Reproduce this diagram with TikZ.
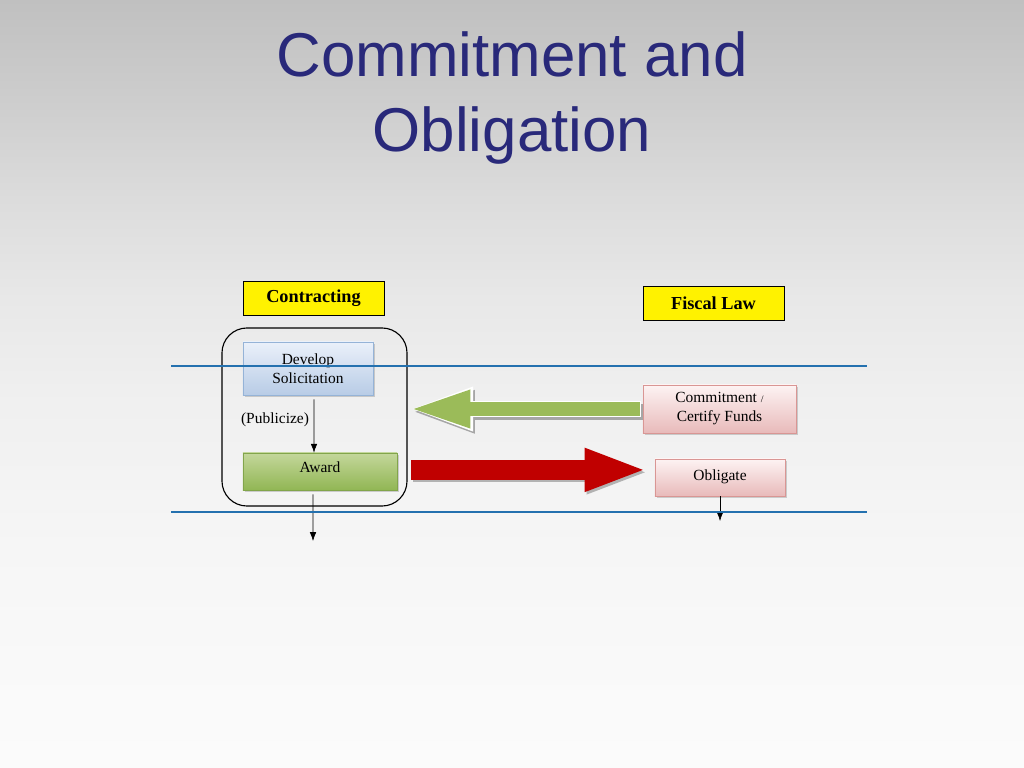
\documentclass[tikz,border=0pt]{standalone}
\usepackage{fontspec}
\setmainfont{Liberation Serif}
\newfontfamily\titlefont{Liberation Sans}
\usetikzlibrary{arrows.meta,positioning,shadows,calc}
\definecolor{slideTitle}{RGB}{41, 41, 122}
\definecolor{bandBlue}{RGB}{36, 113, 175}
\definecolor{devTop}{RGB}{234, 240, 250}
\definecolor{devBottom}{RGB}{184, 204, 230}
\definecolor{devEdge}{RGB}{149, 179, 215}
\definecolor{awardTop}{RGB}{196, 215, 155}
\definecolor{awardBottom}{RGB}{145, 182, 84}
\definecolor{awardEdge}{RGB}{130, 165, 75}
\definecolor{fundTop}{RGB}{253, 243, 243}
\definecolor{fundBottom}{RGB}{232, 186, 186}
\definecolor{fundEdge}{RGB}{217, 150, 148}
\definecolor{commitGreen}{RGB}{155, 187, 89}
\definecolor{obligateRed}{RGB}{192, 0, 0}
\pgfdeclareverticalshading{slidebg}{100bp}{%
  rgb(0bp)=(0.984,0.984,0.984); rgb(25bp)=(0.984,0.984,0.984);
  rgb(29.4bp)=(0.98,0.98,0.98); rgb(39.2bp)=(0.965,0.965,0.965);
  rgb(49bp)=(0.94,0.94,0.94); rgb(55.5bp)=(0.91,0.91,0.91);
  rgb(62bp)=(0.863,0.863,0.863); rgb(68.5bp)=(0.804,0.804,0.804);
  rgb(75bp)=(0.753,0.753,0.753); rgb(100bp)=(0.753,0.753,0.753)}

\begin{document}
\begin{tikzpicture}[
  x=0.025cm, y=-0.025cm,
  header/.style={draw=black, fill=yellow, inner sep=0pt, minimum width=3.525cm,
                 minimum height=0.86cm, font=\fontsize{13}{15}\selectfont\bfseries},
  stepbox/.style={draw, inner sep=0pt, align=center, font=\fontsize{11}{13.5}\selectfont,
                  drop shadow={shadow xshift=0.05cm, shadow yshift=-0.05cm, opacity=0.35}},
  arrow/.style={-{Latex[length=2.2mm, width=1.6mm]}, thin},
  band/.style={bandBlue, line width=1.3pt}
]
\useasboundingbox (0,0) rectangle (1024,768);
\shade[shading=slidebg] (0,0) rectangle (1024,768);

% title
\node[font=\titlefont\fontsize{44}{53}\selectfont, text=slideTitle, align=center]
  (title) at (512,98) {Commitment and\\Obligation};

% headers
\node[header] (contracting) at (313.5,298) {Contracting};
\node[header] (fiscal) at (713.5,303.5) {Fiscal Law};

% contracting steps
\node[draw=black, thick, rounded corners=0.625cm, minimum width=4.625cm,
      minimum height=4.45cm] (phase) at (314.5,417) {};
\node[stepbox, draw=devEdge, top color=devTop, bottom color=devBottom,
      minimum width=3.25cm, minimum height=1.325cm] (develop) at (308,368.5)
      {Develop\\Solicitation};
\node[stepbox, draw=awardEdge, top color=awardTop, bottom color=awardBottom,
      minimum width=3.85cm, minimum height=0.925cm, text depth=0.2cm] (award) at (320,471.5) {Award};
\node[font=\fontsize{11}{13.5}\selectfont] (publicize) at (275,420) {(Publicize)};

% fiscal steps
\node[stepbox, draw=fundEdge, top color=fundTop, bottom color=fundBottom,
      minimum width=3.825cm, minimum height=1.2cm] (commit) at (719.5,409)
      {Commitment {\fontsize{7}{9}\selectfont/}\\Certify Funds};
\node[stepbox, draw=fundEdge, top color=fundTop, bottom color=fundBottom,
      minimum width=3.25cm, minimum height=0.925cm, text depth=0.1cm] (obligate) at (720,477.5) {Obligate};

\coordinate (awardout) at (313,541);
\coordinate (obligateout) at (720,521);

% flow
\draw[arrow] ([xshift=0.15cm, yshift=-0.1cm]develop.south) -- ([xshift=-0.15cm]award.north);
\draw[arrow] ([xshift=-0.175cm, yshift=-0.1cm]award.south) -- (awardout);
\draw[arrow] (obligate.south) -- (obligateout);

% big arrows
\draw[gray!70, line width=0.4cm, -{Triangle[length=1.62cm, width=0.95cm]},
      shorten <=0.05cm, transform canvas={xshift=0.06cm, yshift=-0.07cm}]
  (commit.west) -- (commit.west -| phase.east);
\draw[white, line width=0.42cm, -{Triangle[length=1.64cm, width=0.98cm]}, shorten <=0.05cm]
  (commit.west) -- (commit.west -| phase.east);
\draw[commitGreen, line width=0.34cm, -{Triangle[length=1.52cm, width=0.86cm]},
      shorten <=0.07cm, shorten >=0.05cm]
  (commit.west) -- (commit.west -| phase.east);
\draw[gray!60, line width=0.5cm, -{Triangle[length=1.57cm, width=0.97cm]},
      shorten <=0.35cm, shorten >=0.18cm, transform canvas={xshift=0.05cm, yshift=-0.06cm}]
  ([yshift=0.04cm]award.east) -- ([yshift=0.04cm]award.east -| obligate.west);
\draw[obligateRed, line width=0.5cm, -{Triangle[length=1.57cm, width=0.97cm]},
      shorten <=0.35cm, shorten >=0.18cm]
  ([yshift=0.04cm]award.east) -- ([yshift=0.04cm]award.east -| obligate.west);

% bands
\draw[band] (171,366) -- (867,366);
\draw[band] (171,512) -- (867,512);
\end{tikzpicture}
\end{document}
